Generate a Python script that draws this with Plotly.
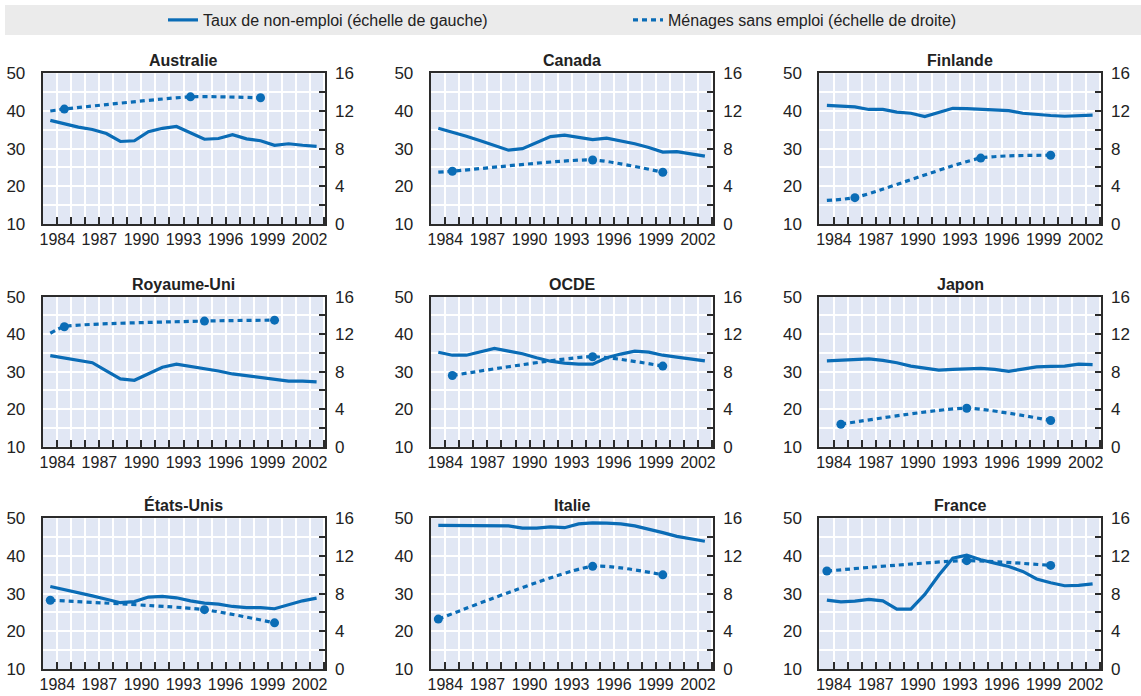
import plotly.graph_objects as go

# ---------------- data ----------------
rate_years = list(range(1983, 2003))  # plotted at mid-year

rate_australie = [37.5, 36.6, 35.7, 35.1, 34.0, 31.9, 32.1, 34.5, 35.4, 35.9,
                  34.3, 32.5, 32.7, 33.7, 32.6, 32.1, 30.9, 31.3, 30.9, 30.6]
rate_canada = [35.4, 34.4, 33.3, 32.1, 30.9, 29.6, 30.0, 31.7, 33.2, 33.6,
               33.0, 32.4, 32.8, 32.1, 31.3, 30.3, 29.1, 29.2, 28.7, 28.0]
rate_finlande = [41.5, 41.4, 41.1, 40.4, 40.4, 39.7, 39.4, 38.5, 39.5, 40.7,
                 40.6, 40.4, 40.3, 40.1, 39.4, 39.0, 38.8, 38.6, 38.7, 38.9]
rate_royaume_uni = [34.3, 33.6, 33.1, 32.4, 30.2, 28.1, 27.7, 29.4, 31.2, 32.0,
                    31.4, 30.9, 30.2, 29.4, 28.9, 28.4, 27.9, 27.5, 27.5, 27.3]
rate_ocde = [35.2, 34.4, 34.4, 35.3, 36.2, 35.5, 34.8, 33.7, 32.8, 32.3,
             32.0, 32.0, 33.7, 34.7, 35.5, 35.2, 34.4, 33.9, 33.5, 32.9]
rate_japon = [32.9, 33.1, 33.2, 33.4, 33.0, 32.4, 31.5, 30.9, 30.4, 30.6,
              30.8, 30.9, 30.6, 30.1, 30.7, 31.3, 31.4, 31.5, 32.0, 31.9]
rate_etats_unis = [31.9, 31.1, 30.4, 29.4, 28.5, 27.6, 27.9, 29.1, 29.3, 28.9,
                   28.1, 27.5, 27.2, 26.6, 26.3, 26.3, 26.0, 27.0, 28.1, 28.8]
rate_italie = [48.1, 48.1, 48.1, 48.1, 48.1, 48.0, 47.4, 47.4, 47.7, 47.5,
               48.5, 48.8, 48.7, 48.5, 48.0, 47.2, 46.2, 45.2, 44.5, 43.9]
rate_france = [28.3, 27.8, 28.0, 28.5, 28.1, 25.9, 25.9, 29.8, 34.9, 39.4,
               40.2, 39.0, 38.1, 37.2, 35.9, 33.9, 32.9, 32.1, 32.2, 32.6]

# jobless households (right scale): survey years / values
hh_years_australie = [1984, 1993, 1998]
hh_australie = [12.2, 13.5, 13.4]
hh_years_canada = [1984, 1994, 1999]
hh_canada = [5.6, 6.8, 5.5]
hh_years_finlande = [1985, 1994, 1999]
hh_finlande = [2.8, 7.0, 7.3]
hh_years_royaume_uni = [1984, 1994, 1999]
hh_royaume_uni = [12.8, 13.4, 13.5]
hh_years_ocde = [1984, 1994, 1999]
hh_ocde = [7.6, 9.6, 8.6]
hh_years_japon = [1984, 1993, 1999]
hh_japon = [2.4, 4.1, 2.8]
hh_years_etats_unis = [1983, 1994, 1999]
hh_etats_unis = [7.3, 6.3, 4.9]
hh_years_italie = [1983, 1994, 1999]
hh_italie = [5.3, 10.9, 10.0]
hh_years_france = [1983, 1993, 1999]
hh_france = [10.4, 11.5, 11.0]

# lead-in values of the dotted line (1983, no marker)
hh_lead_australie = 12.0
hh_lead_canada = 5.5
hh_lead_finlande = 2.5
hh_lead_royaume_uni = 12.1

panels = [
    ("Australie", rate_australie, hh_years_australie, hh_australie, hh_lead_australie),
    ("Canada", rate_canada, hh_years_canada, hh_canada, hh_lead_canada),
    ("Finlande", rate_finlande, hh_years_finlande, hh_finlande, hh_lead_finlande),
    ("Royaume-Uni", rate_royaume_uni, hh_years_royaume_uni, hh_royaume_uni, hh_lead_royaume_uni),
    ("OCDE", rate_ocde, hh_years_ocde, hh_ocde, None),
    ("Japon", rate_japon, hh_years_japon, hh_japon, None),
    ("États-Unis", rate_etats_unis, hh_years_etats_unis, hh_etats_unis, None),
    ("Italie", rate_italie, hh_years_italie, hh_italie, None),
    ("France", rate_france, hh_years_france, hh_france, None),
]

legend_rate = "Taux de non-emploi (échelle de gauche)"
legend_hh = "Ménages sans emploi (échelle de droite)"

# ---------------- style ----------------
W, H = 1141, 696
BLUE = "#0a6cb6"
BG = "#e1e7f4"
DARK = "#2b2b2b"
FONT = "Liberation Sans, Arial, sans-serif"
TICKFONT = dict(family=FONT, size=17, color="#222")
XTICKFONT = dict(family=FONT, size=16, color="#222")

# panel plot-area edges in page pixels
col_x = [(42.7, 325.0), (430.7, 713.3), (819.3, 1101.0)]
row_y = [(73.3, 224.0), (296.7, 446.7), (518.3, 669.0)]


def px(v):
    return v / W


def py(v):
    return 1 - v / H


def mid(y):
    return f"{y}-07-01"


fig = go.Figure()
layout = {}
annotations = []

for i, (name, rate, hy, hv, lead) in enumerate(panels):
    r, c = divmod(i, 3)
    n = i + 1
    xa = "x" if n == 1 else f"x{n}"
    ya = f"y{2 * n - 1}" if n > 1 else "y"
    ya2 = f"y{2 * n}"
    x0, x1 = col_x[c]
    yt, yb = row_y[r]
    dom_x = [px(x0), px(x1)]
    dom_y = [py(yb), py(yt)]

    fig.add_trace(go.Scatter(
        x=[mid(y) for y in rate_years], y=rate, mode="lines",
        line=dict(color=BLUE, width=3.2), name=legend_rate,
        showlegend=(i == 0), xaxis=xa, yaxis=ya, hoverinfo="skip"))

    lx = ([mid(1983)] if lead is not None else []) + [mid(y) for y in hy]
    lv = ([lead] if lead is not None else []) + list(hv)
    fig.add_trace(go.Scatter(
        x=lx, y=lv, mode="lines",
        line=dict(color=BLUE, width=3.2, dash="5px,4px", shape="spline", smoothing=0.6),
        name=legend_hh, showlegend=(i == 0), xaxis=xa, yaxis=ya2, hoverinfo="skip"))
    fig.add_trace(go.Scatter(
        x=[mid(y) for y in hy], y=hv, mode="markers",
        marker=dict(color=BLUE, size=9), showlegend=False,
        xaxis=xa, yaxis=ya2, hoverinfo="skip"))

    xkey = "xaxis" if n == 1 else f"xaxis{n}"
    ykey = "yaxis" if n == 1 else f"yaxis{2 * n - 1}"
    y2key = f"yaxis{2 * n}"

    layout[xkey] = dict(
        domain=dom_x, anchor=ya, type="date",
        range=["1982-12-15", "2003-02-05"],
        tick0="1984-01-01", dtick="M36", tickformat="%Y", tickangle=0,
        ticks="inside", ticklen=7, tickwidth=1.5, tickcolor=DARK,
        showgrid=True, gridcolor="white", gridwidth=1.5,
        minor=dict(dtick="M12", tick0="1984-01-01", ticks="inside", ticklen=7,
                   tickwidth=1.5, tickcolor=DARK, showgrid=True,
                   gridcolor="white", gridwidth=1.5),
        showline=True, mirror=True, linecolor=DARK, linewidth=2,
        tickfont=XTICKFONT, ticklabelstandoff=0, automargin=False,
        zeroline=False, fixedrange=True,
    )
    layout[ykey] = dict(
        domain=dom_y, anchor=xa, range=[10, 50], dtick=10, tick0=10,
        ticks="", showgrid=True, gridcolor="white", gridwidth=1.5,
        minor=dict(dtick=5, tick0=10, showgrid=True, gridcolor="white", gridwidth=1.5),
        showline=True, mirror=True, linecolor=DARK, linewidth=2,
        tickfont=TICKFONT, ticklabelstandoff=12, automargin=False,
        zeroline=False, fixedrange=True,
    )
    layout[y2key] = dict(
        overlaying=ya, side="right", anchor=xa, range=[0, 16], dtick=4, tick0=0,
        ticks="inside", ticklen=6, tickwidth=1.5, tickcolor=DARK,
        minor=dict(dtick=2, tick0=0, ticks="inside", ticklen=6, tickwidth=1.5,
                   tickcolor=DARK),
        showgrid=False, showline=False, zeroline=False,
        tickfont=TICKFONT, ticklabelstandoff=9, automargin=False, fixedrange=True,
    )
    annotations.append(dict(
        text=f"<b>{name}</b>", x=(dom_x[0] + dom_x[1]) / 2, y=dom_y[1],
        xref="paper", yref="paper", xanchor="center", yanchor="bottom",
        yshift=2, showarrow=False, font=dict(family=FONT, size=16, color="#222")))

fig.update_layout(
    width=W, height=H, margin=dict(l=0, r=0, t=0, b=0, autoexpand=False),
    paper_bgcolor="white", plot_bgcolor=BG,
    annotations=annotations,
    shapes=[dict(type="rect", xref="paper", yref="paper",
                 x0=px(5), x1=1, y0=py(35), y1=py(5),
                 fillcolor="#ebebeb", line=dict(width=0), layer="below")],
    legend=dict(orientation="h", x=px(163), xanchor="left", y=py(20), yanchor="middle",
                bgcolor="rgba(0,0,0,0)", font=dict(family=FONT, size=16, color="#222"),
                entrywidth=420, itemwidth=30),
    **layout,
)

# place the figure at the page's top-left corner (remove default body margin)
fig.write_html("out.html", config={"displayModeBar": False},
               post_script="document.body.style.margin='0';document.body.style.overflow='hidden';")
